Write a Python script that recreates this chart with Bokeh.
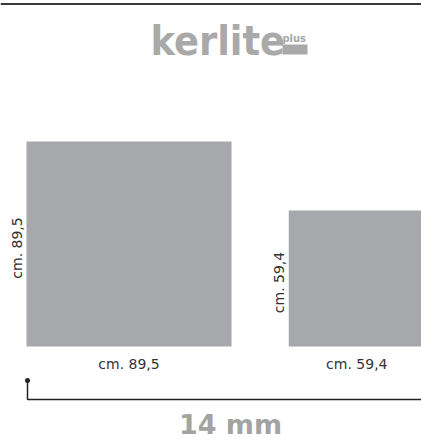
import math
from bokeh.plotting import figure
from bokeh.models import ColumnDataSource
from bokeh.core.properties import value
from bokeh.embed import file_html
from bokeh.resources import INLINE

# ---- data ----
tile_sizes_cm = [89.5, 59.4]
tile_labels = ["cm. 89,5", "cm. 59,4"]
thickness_label = "14 mm"
brand = "kerlite"
brand_suffix = "plus"

# ---- layout (pixels) ----
W, H = 421, 442
PX_PER_CM = 205 / 89.5
LEFT_PX = 26          # left edge of first tile
BASE_PX = 346         # bottom edge of tiles
GAP_CM = 25.0

x0 = -LEFT_PX / PX_PER_CM
x1 = (W - LEFT_PX) / PX_PER_CM
y1 = BASE_PX / PX_PER_CM
y0 = -(H - BASE_PX) / PX_PER_CM

def py(px):  # page pixel row -> data y
    return (BASE_PX - px) / PX_PER_CM

def px_(px):  # page pixel column -> data x
    return (px - LEFT_PX) / PX_PER_CM

p = figure(width=W, height=H, x_range=(x0, x1), y_range=(y0, y1),
           output_backend="svg", toolbar_location=None, min_border=0,
           background_fill_color="white", border_fill_color="white")
p.axis.visible = False
p.grid.visible = False
p.outline_line_color = None

# tiles
lefts, rights, tops, cx, cy = [], [], [], [], []
pos = 0.0
for s in tile_sizes_cm:
    lefts.append(pos)
    rights.append(pos + s)
    tops.append(s)
    cx.append(pos + s / 2)
    cy.append(s / 2)
    pos += s + GAP_CM
src = ColumnDataSource(dict(left=lefts, right=rights, top=tops,
                            bottom=[0] * len(tile_sizes_cm), cx=cx, cy=cy,
                            label=tile_labels))
p.quad(left="left", right="right", top="top", bottom="bottom", source=src,
       fill_color="#a7a8ab", line_color=None)

# horizontal size labels
p.text(x="cx", y=py(363), text="label", source=src, text_align="center",
       text_baseline="middle", text_font=value("DejaVu Sans"),
       text_font_size="14px", text_color="#333333")
# vertical size labels
p.text(x="left", y="cy", text="label", source=src, angle=math.pi / 2,
       x_offset=-2, y_offset=4, text_align="center", text_baseline="bottom",
       text_font=value("DejaVu Sans"), text_font_size="14px",
       text_color="#333333")

# top rule
p.segment(x0=[x0], y0=[py(3.5)], x1=[x1], y1=[py(3.5)],
          line_color="#3a3a3a", line_width=2)

# logo
p.text(x=[px_(150)], y=[py(40)], text=[brand], text_align="left",
       text_baseline="middle", text_font=value("DejaVu Sans Condensed"),
       text_font_style="bold", text_font_size="41px", text_color="#a9a9a9")
p.text(x=[px_(282)], y=[py(38)], text=[brand_suffix], text_align="left",
       text_baseline="middle", text_font=value("DejaVu Sans Condensed"),
       text_font_style="bold", text_font_size="11px", text_color="#a9a9a9")
p.quad(left=[px_(282)], right=[px_(307)], top=[py(44)], bottom=[py(54)],
       fill_color="#a9a9a9", line_color=None)

# thickness bracket
p.line(x=[px_(27), px_(27), x1], y=[py(380), py(399), py(399)],
       line_color="#222222", line_width=1.5)
p.scatter(x=[px_(27)], y=[py(380)], size=5, fill_color="#222222",
          line_color=None)
p.text(x=[px_(230)], y=[py(424)], text=[thickness_label], text_align="center",
       text_baseline="middle", text_font=value("DejaVu Sans"),
       text_font_style="bold", text_font_size="27px", text_color="#a3a3a3")

open("out.html", "w").write(file_html(p, INLINE))
